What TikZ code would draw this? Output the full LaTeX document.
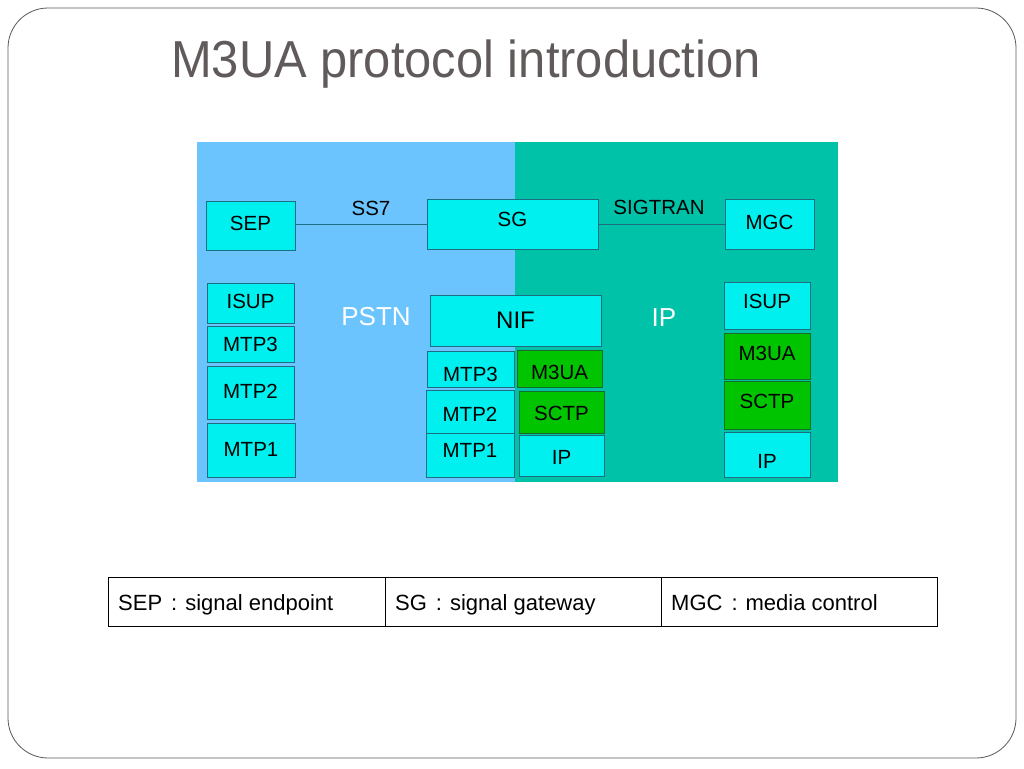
\documentclass[tikz,border=0pt]{standalone}
\usepackage{fontspec}
\setmainfont{Liberation Sans}
\newfontfamily\titlefont[FakeStretch=0.94]{Liberation Sans}
\definecolor{pstnblue}{RGB}{108,196,255}
\definecolor{ipteal}{RGB}{0,194,168}
\definecolor{boxcyan}{RGB}{0,240,240}
\definecolor{boxgreen}{RGB}{0,196,0}
\definecolor{boxline}{RGB}{30,110,130}
\definecolor{greenline}{RGB}{20,110,40}
\definecolor{titlegray}{RGB}{96,90,90}
\newcommand{\tabcolon}{\hspace{9pt}:\hspace{8pt}}
\begin{document}
\begin{tikzpicture}[x=1pt,y=-1pt,
  cbox/.style={draw=boxline,line width=0.7pt,fill=boxcyan,inner sep=0pt},
  gbox/.style={cbox,draw=greenline,fill=boxgreen},
  conn/.style={draw=boxline,line width=0.6pt},
  lbl/.style={font=\fontsize{20.5}{24}\selectfont,inner sep=0pt},
  region/.style={font=\fontsize{26}{30}\selectfont,text=white,inner sep=0pt},
  cell/.style={font=\fontsize{22}{26}\selectfont,anchor=base west,inner sep=0pt}]
\useasboundingbox (0,0) rectangle (1024,768);
\fill[white] (0,0) rectangle (1024,768);
\draw[gray!70!black,line width=0.8pt,rounded corners=40pt] (8,8) rectangle (1016,758);
\node[anchor=west,inner sep=0pt,text=titlegray,font=\titlefont\fontsize{52}{60}\selectfont] (title) at (171,64) {M3UA protocol introduction};
% regions
\fill[pstnblue] (197,142) rectangle (515,482);
\fill[ipteal] (515,142) rectangle (838,482);
\node[region] (pstn) at (376,317) {PSTN};
\node[region] (iplbl) at (664,318) {IP};
% top row
\node[cbox,minimum width=89pt,minimum height=49pt,label={[lbl,yshift=2pt]center:SEP}] (sep) at (250.5,225.5) {};
\node[cbox,minimum width=171pt,minimum height=50pt,label={[lbl,yshift=5pt]center:SG}] (sg) at (512.5,224) {};
\node[cbox,minimum width=89pt,minimum height=50pt,label={[lbl,yshift=2pt]center:MGC}] (mgc) at (769.5,224) {};
\draw[conn] (sep.east |- sg.west) -- (sg.west);
\draw[conn] (sg.east) -- (mgc.west);
\node[lbl] (ss7) at (371,208) {SS7};
\node[lbl] (sigtran) at (659,207) {SIGTRAN};
% left stack
\node[cbox,minimum width=87pt,minimum height=40pt,label={[lbl,yshift=2pt]center:ISUP}] (isupL) at (250.5,303) {};
\node[cbox,minimum width=87pt,minimum height=36pt,label={[lbl]center:MTP3}] (mtp3L) at (250.5,344) {};
\node[cbox,minimum width=87pt,minimum height=53pt,label={[lbl,yshift=1pt]center:MTP2}] (mtp2L) at (250.5,392.5) {};
\node[cbox,minimum width=88pt,minimum height=54pt,label={[lbl,yshift=1pt]center:MTP1}] (mtp1L) at (251,450) {};
% middle stack
\node[cbox,minimum width=171pt,minimum height=51pt,label={[lbl,font=\fontsize{24}{28}\selectfont]center:NIF}] (nif) at (515.5,320.5) {};
\node[cbox,minimum width=87pt,minimum height=36pt,label={[lbl,yshift=-5pt]center:MTP3}] (mtp3M) at (470.5,369) {};
\node[gbox,minimum width=85pt,minimum height=37pt,label={[lbl,yshift=-4pt]center:M3UA}] (m3uaM) at (559.5,368.5) {};
\node[gbox,minimum width=85pt,minimum height=42pt,label={[lbl,yshift=-1pt]center:SCTP}] (sctpM) at (561.5,412) {};
\node[cbox,minimum width=88pt,minimum height=43pt,label={[lbl,yshift=-3pt]center:MTP2}] (mtp2M) at (470,411.5) {};
\node[cbox,minimum width=88pt,minimum height=44pt,label={[lbl,yshift=5pt]center:MTP1}] (mtp1M) at (470,455) {};
\node[cbox,minimum width=85pt,minimum height=41pt,label={[lbl,yshift=-2pt]center:IP}] (ipM) at (561.5,455.5) {};
% right stack
\node[cbox,minimum width=86pt,minimum height=47pt,label={[lbl,yshift=4pt]center:ISUP}] (isupR) at (767,305.5) {};
\node[gbox,minimum width=86pt,minimum height=46pt,label={[lbl,yshift=3pt]center:M3UA}] (m3uaR) at (767,356) {};
\node[gbox,minimum width=86pt,minimum height=48pt,label={[lbl,yshift=4pt]center:SCTP}] (sctpR) at (767,405) {};
\node[cbox,minimum width=86pt,minimum height=45pt,label={[lbl,yshift=-7pt]center:IP}] (ipR) at (767,454.5) {};
% table
\draw[black,line width=1pt] (108,577) rectangle (937,626);
\draw[black,line width=1pt] (385,577) -- (385,626);
\draw[black,line width=1pt] (661,577) -- (661,626);
\node[cell] (c1) at (118,610.5) {SEP\tabcolon signal endpoint};
\node[cell] (c2) at (395,610.5) {SG\tabcolon signal gateway};
\node[cell] (c3) at (671,610.5) {MGC\tabcolon media control};
\end{tikzpicture}
\end{document}
